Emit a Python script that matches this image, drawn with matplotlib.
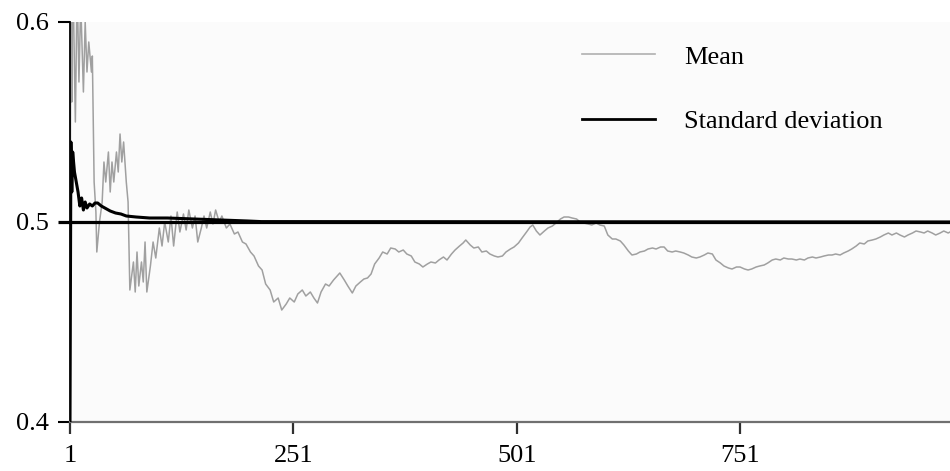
import matplotlib
matplotlib.use("Agg")
import matplotlib.pyplot as plt
from matplotlib.lines import Line2D

plt.rcParams['font.family'] = ['Liberation Serif', 'DejaVu Serif']

# Mean series (sample index, value)
mean_x = [1, 2, 3, 4, 7, 9, 11, 13, 16, 18, 20, 22, 25, 26, 28, 30, 31, 34, 37, 39, 41, 44, 46, 48,
          50, 53, 55, 57, 59, 61, 64, 66, 68, 72, 74, 76, 78, 81, 83, 85, 87, 91, 94, 97, 101, 104,
          107, 111, 114, 117, 121, 124, 128, 131, 134, 138, 141, 144, 148, 151, 154, 158, 161, 164,
          168, 171, 176, 180, 185, 189, 194, 198, 203, 207, 212, 216, 220, 225, 229, 234, 238, 243,
          247, 252, 256, 261, 265, 270, 274, 278, 282, 287, 291, 296, 300, 303, 308, 312, 317, 321,
          326, 330, 334, 338, 342, 347, 351, 356, 360, 365, 369, 374, 378, 383, 387, 392, 396, 401,
          405, 410, 414, 419, 423, 428, 432, 437, 441, 444, 449, 453, 458, 462, 467, 471, 476, 480,
          485, 489, 494, 498, 503, 507, 512, 516, 519, 523, 527, 532, 536, 541, 545, 550, 554, 559,
          563, 568, 572, 576, 581, 585, 590, 594, 599, 603, 608, 612, 617, 621, 626, 630, 635, 639,
          644, 648, 653, 657, 662, 666, 670, 675, 679, 684, 688, 693, 697, 702, 706, 711, 715, 720,
          724, 729, 733, 738, 742, 747, 751, 756, 760, 764, 769, 773, 778, 782, 787, 791, 796, 800,
          805, 809, 814, 818, 823, 827, 832, 836, 841, 845, 850, 854, 858, 863, 867, 872, 876, 881,
          885, 890, 894, 899, 903, 908, 912, 917, 921, 926, 930, 935, 939, 944, 948, 953, 957, 961,
          966, 970, 975, 979, 984, 986]
mean_y = [0.45, 0.64, 0.56, 0.63, 0.55, 0.62, 0.57, 0.61, 0.565, 0.60, 0.575, 0.59, 0.575, 0.583,
          0.52, 0.505, 0.485, 0.50, 0.51, 0.53, 0.52, 0.535, 0.515, 0.53, 0.52, 0.535, 0.525, 0.544,
          0.53, 0.54, 0.52, 0.51, 0.466, 0.48, 0.465, 0.485, 0.468, 0.48, 0.47, 0.49, 0.465, 0.478,
          0.49, 0.482, 0.497, 0.488, 0.50, 0.49, 0.503, 0.488, 0.505, 0.495, 0.504, 0.496, 0.506,
          0.497, 0.503, 0.49, 0.497, 0.503, 0.497, 0.505, 0.499, 0.506, 0.50, 0.503, 0.497, 0.499,
          0.494, 0.495, 0.49, 0.489, 0.485, 0.483, 0.478, 0.476, 0.469, 0.466, 0.46, 0.462, 0.456,
          0.459, 0.462, 0.46, 0.464, 0.466, 0.463, 0.465, 0.462, 0.4595, 0.465, 0.469, 0.468, 0.471,
          0.473, 0.4745, 0.471, 0.468, 0.4645, 0.468, 0.47, 0.4715, 0.472, 0.474, 0.479, 0.482,
          0.485, 0.484, 0.487, 0.4865, 0.485, 0.486, 0.484, 0.483, 0.48, 0.479, 0.4775, 0.479, 0.48,
          0.4795, 0.481, 0.4825, 0.481, 0.484, 0.486, 0.488, 0.4895, 0.491, 0.4885, 0.487, 0.4875,
          0.485, 0.4855, 0.484, 0.483, 0.4825, 0.483, 0.485, 0.4865, 0.4875, 0.4895, 0.492, 0.495,
          0.4975, 0.4985, 0.4955, 0.4935, 0.4955, 0.497, 0.498, 0.4995, 0.5015, 0.5025, 0.5025,
          0.502, 0.5015, 0.50, 0.4995, 0.499, 0.4985, 0.4995, 0.4985, 0.498, 0.4935, 0.4915, 0.4915,
          0.4905, 0.4885, 0.4855, 0.4835, 0.484, 0.485, 0.4855, 0.4865, 0.487, 0.4865, 0.4875,
          0.4875, 0.4855, 0.485, 0.4855, 0.485, 0.4845, 0.4835, 0.4825, 0.482, 0.4825, 0.4835,
          0.4845, 0.484, 0.481, 0.4795, 0.478, 0.477, 0.4765, 0.4775, 0.4775, 0.4765, 0.476, 0.4765,
          0.4775, 0.478, 0.4785, 0.4795, 0.481, 0.4815, 0.481, 0.482, 0.4815, 0.4815, 0.481, 0.4815,
          0.481, 0.482, 0.4825, 0.482, 0.4825, 0.483, 0.4835, 0.4835, 0.484, 0.4835, 0.4845, 0.4855,
          0.4865, 0.488, 0.4895, 0.489, 0.4905, 0.491, 0.4915, 0.4925, 0.4935, 0.4945, 0.4935,
          0.4945, 0.4935, 0.4925, 0.4935, 0.4945, 0.4955, 0.495, 0.4945, 0.4955, 0.4945, 0.4935,
          0.4945, 0.4955, 0.4945, 0.495]

# Standard deviation series (sample index, value)
std_x = [1, 2, 3, 4, 6, 8, 10, 12, 14, 16, 18, 20, 23, 26, 29, 32, 36, 40, 46, 52, 58, 64, 75,
         90, 110, 140, 170, 200, 215, 986]
std_y = [0.40, 0.54, 0.515, 0.535, 0.525, 0.52, 0.515, 0.508, 0.512, 0.506, 0.51, 0.507, 0.509,
         0.508, 0.5095, 0.5095, 0.508, 0.507, 0.5055, 0.5045, 0.504, 0.503, 0.5025, 0.502, 0.502,
         0.5015, 0.501, 0.5005, 0.5002, 0.50]

reference_level = 0.5
x_ticks = [1, 251, 501, 751]
y_ticks = [0.4, 0.5, 0.6]
y_tick_labels = ["0.4", "0.5", "0.6"]
legend_labels = ["Mean", "Standard deviation"]

fig = plt.figure(figsize=(9.5, 4.71), dpi=100)
ax = fig.add_axes([70 / 950, 49 / 471, 880 / 950, 400 / 471])
ax.set_facecolor('#fbfbfb')

ax.plot(mean_x, mean_y, color='#a0a0a0', lw=1.1, zorder=2)
ax.axhline(reference_level, color='black', lw=2.3, zorder=3, clip_on=False)
ax.plot(std_x, std_y, color='black', lw=2.2, zorder=4)

ax.set_xlim(1, 986)
ax.set_ylim(0.4, 0.6)
ax.set_xticks(x_ticks)
ax.set_xticklabels([str(v) for v in x_ticks])
ax.set_yticks(y_ticks)
ax.set_yticklabels(y_tick_labels)

for s in ['top', 'right']:
    ax.spines[s].set_visible(False)
ax.spines['left'].set_color('black')
ax.spines['left'].set_linewidth(1.3)
ax.spines['bottom'].set_color('#707070')
ax.spines['bottom'].set_linewidth(1.6)

ax.tick_params(axis='x', direction='out', length=8.5, width=1.6, color='#303030',
               labelsize=19, pad=8)
ax.tick_params(axis='y', direction='out', length=8.5, width=1.5, color='black',
               labelsize=19, pad=7)
yt = ax.yaxis.get_major_ticks()
yt[0].tick1line.set_color('#707070')
yt[1].tick1line.set_markeredgewidth(2.3)

handles = [Line2D([], [], color='#b0b0b0', lw=1.2), Line2D([], [], color='black', lw=2.0)]
ax.legend(handles, legend_labels, loc='upper left', bbox_to_anchor=(0.567, 0.975),
          frameon=False, fontsize=19, handlelength=2.75, handletextpad=1.1,
          labelspacing=1.55, borderpad=0)

fig.savefig('out.png', dpi=100)
